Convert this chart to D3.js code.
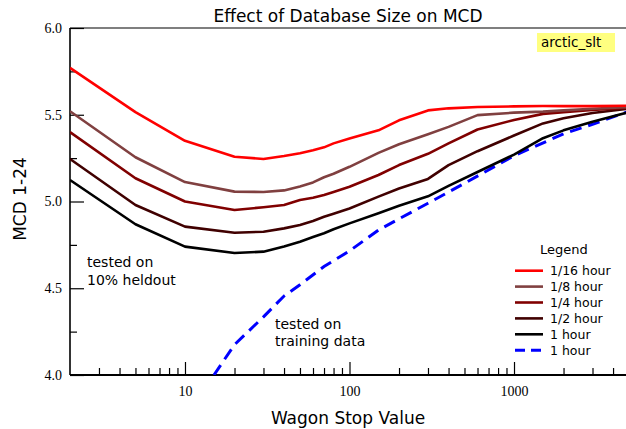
<!DOCTYPE html>
<html>
<head>
<meta charset="utf-8">
<script src="https://cdn.jsdelivr.net/npm/d3@7/dist/d3.min.js"></script>
<style>
  body { margin: 0; background: #fff; }
  svg { display: block; font-family: "DejaVu Sans", Verdana, sans-serif; }
</style>
</head>
<body>
<div id="chart"></div>
<script>
// wagon stop values (x) for the heldout curves
var stops = [2, 5, 10, 20, 30, 40, 50, 60, 70, 80, 100, 150, 200, 300, 400, 600, 1000, 1500, 2000, 3000, 5000];

// MCD per database size, tested on 10% heldout
var mcd_16th = [5.77, 5.515, 5.35, 5.258, 5.245, 5.262, 5.278, 5.295, 5.312, 5.335, 5.363, 5.41, 5.468, 5.525, 5.537, 5.545, 5.548, 5.55, 5.55, 5.55, 5.552];
var mcd_8th  = [5.52, 5.255, 5.112, 5.057, 5.055, 5.064, 5.087, 5.11, 5.14, 5.16, 5.2, 5.28, 5.33, 5.388, 5.43, 5.498, 5.512, 5.518, 5.525, 5.535, 5.545];
var mcd_4th  = [5.40, 5.134, 5.0, 4.951, 4.967, 4.98, 5.009, 5.022, 5.037, 5.055, 5.085, 5.153, 5.21, 5.275, 5.335, 5.415, 5.47, 5.505, 5.515, 5.528, 5.54];
var mcd_half = [5.245, 4.98, 4.855, 4.82, 4.826, 4.845, 4.865, 4.888, 4.912, 4.93, 4.96, 5.028, 5.075, 5.13, 5.21, 5.29, 5.38, 5.45, 5.48, 5.51, 5.535];
var mcd_hour = [5.124, 4.869, 4.74, 4.703, 4.711, 4.74, 4.768, 4.795, 4.817, 4.84, 4.874, 4.932, 4.975, 5.03, 5.09, 5.17, 5.27, 5.365, 5.41, 5.46, 5.515];

// 1 hour, tested on training data
var train_stops = [15, 20, 30, 40, 50, 70, 100, 150, 200, 300, 500, 1000, 2000, 3000, 5000];
var mcd_train   = [4.0, 4.175, 4.335, 4.455, 4.52, 4.625, 4.715, 4.835, 4.9, 4.99, 5.105, 5.264, 5.39, 5.445, 5.52];

var series_names  = ["1/16 hour", "1/8 hour", "1/4 hour", "1/2 hour", "1 hour", "1 hour"];
var series_colors = ["#ff0000", "#804040", "#800000", "#400000", "#000000", "#0000ff"];

var y_major = [4.0, 4.5, 5.0, 5.5, 6.0];
var y_minor = [4.25, 4.75, 5.25, 5.75];
var x_major = [10, 100, 1000];
var x_minor = [3, 4, 5, 6, 7, 8, 9, 20, 30, 40, 50, 60, 70, 80, 90, 200, 300, 400, 500, 600, 700, 800, 900, 2000, 3000, 4000];

var width = 626, height = 429;
var plot_left = 70, plot_top = 28, plot_bottom = 375;

var svg = d3.select("#chart")
  .append("svg")
  .attr("width", width)
  .attr("height", height);

var x = d3.scaleLog().domain([2, 5000]).range([plot_left, 629]);
var y = d3.scaleLinear().domain([4, 6]).range([plot_bottom, plot_top]);

// clip region for the curves
svg.append("clipPath")
  .attr("id", "plotclip")
  .append("rect")
  .attr("x", plot_left).attr("y", plot_top)
  .attr("width", width - plot_left).attr("height", plot_bottom - plot_top);

// title
svg.append("text")
  .attr("x", 348).attr("y", 22)
  .attr("text-anchor", "middle")
  .style("font-size", "17px")
  .text("Effect of Database Size on MCD");

// y axis: major ticks with labels, minor ticks without
svg.append("g")
  .attr("transform", "translate(" + plot_left + ",0)")
  .call(d3.axisLeft(y).tickValues(y_major).tickSize(-14).tickPadding(8).tickFormat(d3.format(".1f")))
  .call(function(g){ g.select(".domain").remove(); });
svg.append("g")
  .attr("transform", "translate(" + plot_left + ",0)")
  .call(d3.axisLeft(y).tickValues(y_minor).tickSize(-7).tickFormat(""))
  .call(function(g){ g.select(".domain").remove(); });

// x axis
svg.append("g")
  .attr("transform", "translate(0," + plot_bottom + ")")
  .call(d3.axisBottom(x).tickValues(x_major).tickSize(-13).tickPadding(11).tickFormat(d3.format("d")))
  .call(function(g){ g.select(".domain").remove(); });
svg.append("g")
  .attr("transform", "translate(0," + plot_bottom + ")")
  .call(d3.axisBottom(x).tickValues(x_minor).tickSize(-7).tickFormat(""))
  .call(function(g){ g.select(".domain").remove(); });

svg.selectAll(".tick line").attr("stroke", "#000").attr("stroke-width", 1.2);
svg.selectAll(".tick text")
  .attr("fill", "#000")
  .style("font-family", "'Liberation Serif', 'Times New Roman', serif")
  .style("font-size", "14px");

// frame lines (left, bottom, top)
svg.append("line").attr("x1", plot_left).attr("x2", plot_left).attr("y1", plot_top).attr("y2", plot_bottom)
  .attr("stroke", "#000").attr("stroke-width", 1.6);
svg.append("line").attr("x1", plot_left).attr("x2", width).attr("y1", plot_bottom).attr("y2", plot_bottom)
  .attr("stroke", "#000").attr("stroke-width", 2);
svg.append("line").attr("x1", plot_left).attr("x2", width).attr("y1", plot_top).attr("y2", plot_top)
  .attr("stroke", "#000").attr("stroke-width", 1.2);

// axis titles
svg.append("text")
  .attr("transform", "translate(26,199)rotate(-90)")
  .attr("text-anchor", "middle")
  .style("font-size", "17px")
  .text("MCD 1-24");
svg.append("text")
  .attr("x", 348).attr("y", 424)
  .attr("text-anchor", "middle")
  .style("font-size", "17px")
  .text("Wagon Stop Value");

// curves
var line = d3.line()
  .x(function(d){ return x(d[0]); })
  .y(function(d){ return y(d[1]); });

var heldout = [mcd_16th, mcd_8th, mcd_4th, mcd_half, mcd_hour];
var plot = svg.append("g").attr("clip-path", "url(#plotclip)");

plot.append("path")
  .datum(d3.zip(train_stops, mcd_train))
  .attr("d", line)
  .attr("fill", "none")
  .attr("stroke", series_colors[5])
  .attr("stroke-width", 3)
  .attr("stroke-dasharray", "12,7");

// draw darkest first so the red sits on top
for (var i = heldout.length - 1; i >= 0; i--) {
  plot.append("path")
    .datum(d3.zip(stops, heldout[i]))
    .attr("d", line)
    .attr("fill", "none")
    .attr("stroke", series_colors[i])
    .attr("stroke-width", 2.6)
    .attr("stroke-linejoin", "round");
}

// dataset tag
svg.append("rect")
  .attr("x", 537).attr("y", 33)
  .attr("width", 78).attr("height", 19)
  .attr("fill", "#ffff80");
svg.append("text")
  .attr("x", 541).attr("y", 47)
  .style("font-size", "13.5px")
  .text("arctic_slt");

// annotations
svg.append("text").attr("x", 87).attr("y", 267).style("font-size", "14px").text("tested on");
svg.append("text").attr("x", 87).attr("y", 285).style("font-size", "14px").text("10% heldout");
svg.append("text").attr("x", 275).attr("y", 329).style("font-size", "14px").text("tested on");
svg.append("text").attr("x", 275).attr("y", 346).style("font-size", "14px").text("training data");

// legend
svg.append("text")
  .attr("x", 564).attr("y", 254)
  .attr("text-anchor", "middle")
  .style("font-size", "13px")
  .text("Legend");

var legend = svg.selectAll(".legend")
  .data(series_names)
  .enter().append("g")
  .attr("class", "legend")
  .attr("transform", function(d, i){ return "translate(515," + (270.7 + i * 15.9) + ")"; });

legend.append("line")
  .attr("x1", 0).attr("x2", 28)
  .attr("stroke", function(d, i){ return series_colors[i]; })
  .attr("stroke-width", function(d, i){ return i == 5 ? 3 : 2.6; })
  .attr("stroke-dasharray", function(d, i){ return i == 5 ? "10,6" : null; });

legend.append("text")
  .attr("x", 35).attr("y", 4.5)
  .style("font-size", "12.5px")
  .text(function(d){ return d; });
</script>
</body>
</html>
